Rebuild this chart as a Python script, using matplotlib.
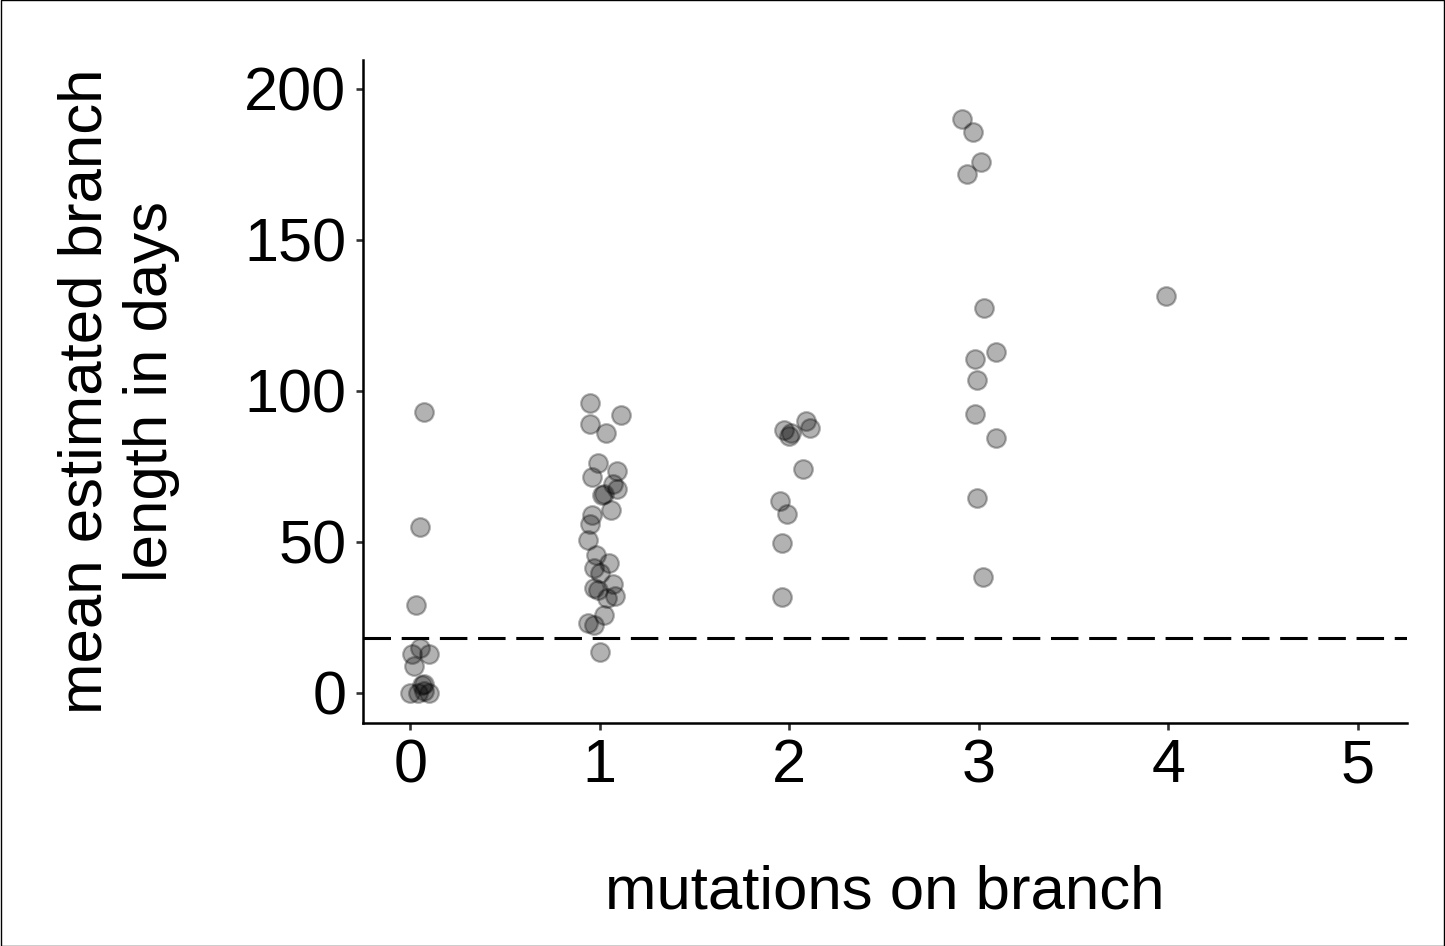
import numpy as np
import matplotlib.pyplot as plt

plt.rcParams['font.family'] = ['Liberation Sans', 'DejaVu Sans']

# jittered points
x0 = [0.07, 0.05, 0.03, 0.05, 0.01, 0.10, 0.02, 0.07, 0.00, 0.04, 0.07, 0.10, 0.06]
y0 = [93, 55, 29, 15, 13, 13, 9, 3, 0, 0, 0.5, 0, 2.6]

x1 = [0.95, 1.11, 0.95, 1.03, 0.99, 1.09, 0.96, 1.07, 1.09, 1.02, 1.01, 1.06,
      0.96, 0.95, 0.94, 0.98, 1.05, 0.97, 1.00, 1.07, 0.97, 0.99, 1.08, 1.04,
      1.02, 0.94, 0.97, 1.00]
y1 = [96, 92, 89, 86, 76, 73.5, 71.5, 69, 67.5, 66, 65.5, 60.5, 59, 56, 50.7,
      45.7, 43, 41.4, 39.7, 36, 34.8, 34, 32, 31.4, 25.8, 23, 22.5, 13.5]

x2 = [2.09, 2.11, 1.97, 2.01, 2.00, 2.07, 1.95, 1.99, 1.96, 1.96]
y2 = [90, 87.7, 87, 86, 85, 74, 63.6, 59.3, 49.7, 31.8]

x3 = [2.91, 2.97, 3.01, 2.94, 3.03, 3.09, 2.98, 2.99, 2.98, 3.09, 2.99, 3.02]
y3 = [190, 185.7, 175.8, 171.9, 127.5, 113, 110.6, 103.6, 92.4, 84.4, 64.6, 38.4]

x4 = [3.99]
y4 = [131.5]

threshold = 18.2

xs = np.concatenate([x0, x1, x2, x3, x4])
ys = np.concatenate([y0, y1, y2, y3, y4])

fig = plt.figure(figsize=(14.45, 9.46), dpi=100)
ax = fig.add_axes([0.2512, 0.2357, 0.9737 - 0.2512, 0.9366 - 0.2357])

ax.scatter(xs, ys, s=180, facecolor='black', edgecolor='black',
           linewidth=1.6, alpha=0.3, zorder=3)
ax.axhline(threshold, color='black', lw=2.2, dashes=(9, 3.5), zorder=2)

ax.set_xlim(-0.25, 5.26)
ax.set_ylim(-10, 209.6)
ax.set_xticks([0, 1, 2, 3, 4, 5])
ax.set_yticks([0, 50, 100, 150, 200])
ax.tick_params(labelsize=44, length=5, width=1.9, color='#333333',
               labelcolor='black')
ax.tick_params(axis='x', pad=6)
ax.tick_params(axis='y', pad=7)
for s in ['top', 'right']:
    ax.spines[s].set_visible(False)
for s in ['left', 'bottom']:
    ax.spines[s].set_linewidth(1.8)

ax.set_xlabel('mutations on branch', fontsize=44.5, labelpad=50)
ax.set_ylabel('mean estimated branch\nlength in days', fontsize=44.5,
              labelpad=46, linespacing=1.2)

# thin frame round the whole figure
fig.patches.append(plt.Rectangle((0.0005, 0.0005), 0.999, 0.999, transform=fig.transFigure,
                                 fill=False, edgecolor='black', lw=1))

fig.savefig('out.png', dpi=100)
